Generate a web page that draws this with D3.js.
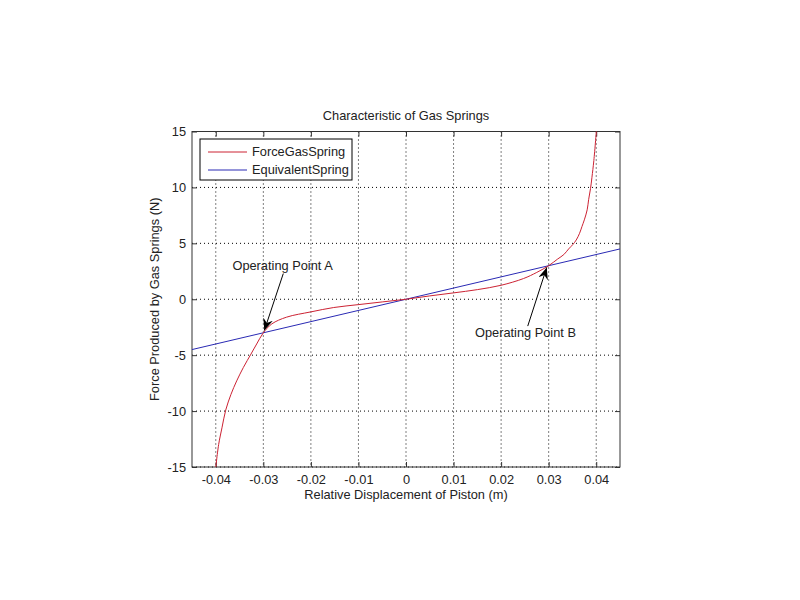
<!DOCTYPE html>
<html lang="en">
    <head>
        <meta charset="UTF-8" />
        <title>Characteristic of Gas Springs</title>
        <script src="https://cdn.jsdelivr.net/npm/d3@7/dist/d3.min.js"></script>
        <style>
            body { margin: 0; background: #fff; }
            svg text { font-family: "Liberation Sans", Arial, sans-serif; font-size: 12.8px; fill: #222; }
        </style>
        <script>
            // red curve (displacement m, force N)
            const gasX = [-0.0401, -0.0394, -0.0387, -0.0379, -0.0368, -0.0356, -0.0342, -0.0326, -0.0314, -0.0300,
                          -0.0282, -0.0251, -0.0200, -0.0152, -0.0100, -0.0050, 0, 0.0050, 0.0100, 0.0150,
                          0.0200, 0.0247, 0.0275, 0.0300, 0.0319, 0.0332, 0.0342, 0.0351, 0.0358, 0.0365,
                          0.0370, 0.0375, 0.0381, 0.0384, 0.0388, 0.0391, 0.0395, 0.0401]
            const gasF = [-15.4, -13.0, -11.5, -9.9, -8.5, -7.3, -6.1, -4.9, -4.0, -3.0,
                          -2.2, -1.6, -1.13, -0.74, -0.48, -0.24, 0, 0.3, 0.57, 0.86,
                          1.25, 1.85, 2.4, 3.0, 3.6, 4.0, 4.5, 4.9, 5.3, 5.9,
                          6.5, 7.1, 8.0, 8.9, 9.9, 10.9, 12.4, 15.4]
            // blue line end points
            const eqX = [-0.045, 0.045]
            const eqF = [-4.5, 4.5]

            const xTicks = [-0.04, -0.03, -0.02, -0.01, 0, 0.01, 0.02, 0.03, 0.04]
            const yTicks = [-15, -10, -5, 0, 5, 10, 15]
            const seriesNames = ['ForceGasSpring', 'EquivalentSpring']
            const seriesColors = ['#cc2233', '#2a2ab4']

            // annotations: label, text start, arrow tail, arrow head (data units)
            const notes = [
                { label: 'Operating Point A', tx: -0.0365, ty: 2.65, x1: -0.0258, y1: 2.3, x2: -0.0298, y2: -2.8 },
                { label: 'Operating Point B', tx: 0.0145, ty: -3.35, x1: 0.0256, y1: -2.4, x2: 0.0296, y2: 2.85 },
            ]

            const dim = { left: 192, right: 620, top: 131.5, bottom: 467 }

            window.onload = () => draw()

            function draw() {
                const svg = d3.select('#chart')
                const x = d3.scaleLinear().domain([-0.045, 0.045]).range([dim.left, dim.right])
                const y = d3.scaleLinear().domain([-15, 15]).range([dim.bottom, dim.top])

                svg.append('defs').append('clipPath').attr('id', 'clip')
                    .append('rect')
                    .attr('x', dim.left).attr('y', dim.top)
                    .attr('width', dim.right - dim.left).attr('height', dim.bottom - dim.top)

                svg.append('defs').append('marker')
                    .attr('id', 'head')
                    .attr('viewBox', '0 0 12 10')
                    .attr('refX', 12).attr('refY', 5)
                    .attr('markerWidth', 12).attr('markerHeight', 10)
                    .attr('markerUnits', 'userSpaceOnUse')
                    .attr('orient', 'auto')
                    .append('path')
                    .attr('d', 'M0,0 L12,5 L0,10 L4,5 Z')
                    .style('fill', '#000')

                // grid
                const grid = svg.append('g')
                grid.selectAll('line.gx').data(xTicks).enter().append('line')
                    .attr('x1', d => x(d)).attr('x2', d => x(d))
                    .attr('y1', dim.top).attr('y2', dim.bottom)
                grid.selectAll('line.gy').data(yTicks).enter().append('line')
                    .attr('x1', dim.left).attr('x2', dim.right)
                    .attr('y1', d => y(d)).attr('y2', d => y(d))
                grid.selectAll('line')
                    .style('stroke', '#000').style('stroke-width', 1)
                    .style('stroke-dasharray', '1,3')

                // axes, ticks inward on all four sides (plain hyphen minus like the original)
                const fmt = d => String(+d.toFixed(2))
                const tick = 5
                svg.append('g').attr('transform', `translate(0,${dim.bottom})`)
                    .call(d3.axisBottom(x).tickValues(xTicks).tickSizeInner(-tick).tickSizeOuter(0).tickPadding(8).tickFormat(fmt))
                svg.append('g').attr('transform', `translate(0,${dim.top})`)
                    .call(d3.axisTop(x).tickValues(xTicks).tickSizeInner(-tick).tickSizeOuter(0).tickFormat(''))
                svg.append('g').attr('transform', `translate(${dim.left},0)`)
                    .call(d3.axisLeft(y).tickValues(yTicks).tickSizeInner(-tick).tickSizeOuter(0).tickPadding(6).tickFormat(fmt))
                svg.append('g').attr('transform', `translate(${dim.right},0)`)
                    .call(d3.axisRight(y).tickValues(yTicks).tickSizeInner(-tick).tickSizeOuter(0).tickFormat(''))
                svg.selectAll('.domain').remove()
                svg.selectAll('.tick line').style('stroke', '#333')
                svg.selectAll('.tick text').style('font-size', '12.8px').style('fill', '#222')
                    .style('font-family', '"Liberation Sans", Arial, sans-serif')

                svg.append('rect')
                    .attr('x', dim.left).attr('y', dim.top)
                    .attr('width', dim.right - dim.left).attr('height', dim.bottom - dim.top)
                    .style('fill', 'none').style('stroke', '#333').style('stroke-width', 1)

                // curves
                const plot = svg.append('g').attr('clip-path', 'url(#clip)')
                const line = d3.line().x(d => x(d[0])).y(d => y(d[1]))
                plot.append('path')
                    .datum(eqX.map((v, i) => [v, eqF[i]]))
                    .attr('d', line)
                    .style('fill', 'none').style('stroke', seriesColors[1]).style('stroke-width', 1)
                plot.append('path')
                    .datum(gasX.map((v, i) => [v, gasF[i]]))
                    .attr('d', line.curve(d3.curveCatmullRom.alpha(0.5)))
                    .style('fill', 'none').style('stroke', seriesColors[0]).style('stroke-width', 1)

                // annotations
                const ann = svg.append('g')
                notes.forEach(n => {
                    ann.append('line')
                        .attr('x1', x(n.x1)).attr('y1', y(n.y1))
                        .attr('x2', x(n.x2)).attr('y2', y(n.y2))
                        .attr('marker-end', 'url(#head)')
                        .style('stroke', '#000').style('stroke-width', 1)
                    ann.append('text')
                        .attr('x', x(n.tx)).attr('y', y(n.ty))
                        .text(n.label)
                })

                // legend
                const lg = svg.append('g').attr('transform', 'translate(200,139)')
                lg.append('rect').attr('width', 152).attr('height', 41)
                    .style('fill', '#fff').style('stroke', '#000').style('stroke-width', 1)
                seriesNames.forEach((name, i) => {
                    lg.append('line')
                        .attr('x1', 8).attr('x2', 47)
                        .attr('y1', 13 + i * 18).attr('y2', 13 + i * 18)
                        .style('stroke', seriesColors[i]).style('stroke-width', 1)
                    lg.append('text')
                        .attr('x', 52).attr('y', 13 + i * 18).attr('dy', '0.35em')
                        .text(name)
                })

                // titles
                svg.append('text')
                    .attr('x', (dim.left + dim.right) / 2).attr('y', 120)
                    .attr('text-anchor', 'middle')
                    .text('Characteristic of Gas Springs')
                svg.append('text')
                    .attr('x', (dim.left + dim.right) / 2).attr('y', 499)
                    .attr('text-anchor', 'middle')
                    .text('Relative Displacement of Piston (m)')
                svg.append('text')
                    .attr('transform', `translate(159,${(dim.top + dim.bottom) / 2}) rotate(-90)`)
                    .attr('text-anchor', 'middle')
                    .text('Force Produced by Gas Springs (N)')
            }
        </script>
    </head>
    <body>
        <svg id="chart" width="800" height="600"></svg>
    </body>
</html>
